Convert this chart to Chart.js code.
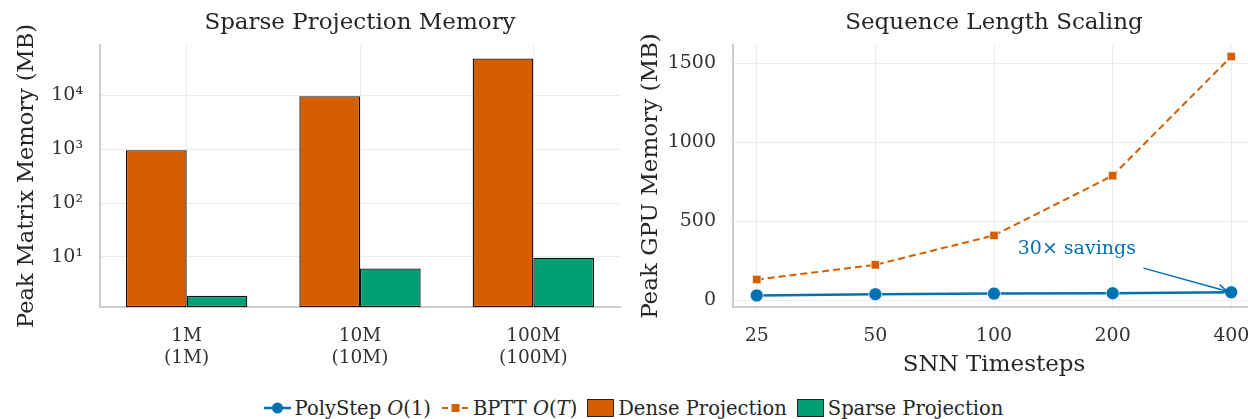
<!DOCTYPE html>
<html>
<head>
<meta charset="utf-8">
<script src="https://cdn.jsdelivr.net/npm/chart.js@4.4.1/dist/chart.umd.min.js"></script>
<style>
  html, body { margin: 0; padding: 0; background: #fff; overflow: hidden; }
  body { width: 1248px; height: 419px; position: relative; font-family: "DejaVu Serif", serif; }
  #left { position: absolute; left: 0; top: 0; }
  #right { position: absolute; left: 625px; top: 0; }
  #legend {
    position: absolute; left: 0; width: 1266px; top: 395px; height: 26px;
    display: flex; justify-content: center; align-items: center;
    font-size: 19.5px; color: #262626; white-space: nowrap;
  }
  #legend .item { display: flex; align-items: center; margin: 0 5px; }
  #legend svg { margin-right: 3px; }
  #legend .sw { width: 27px; height: 18px; border: 1px solid #222; box-sizing: border-box; margin-right: 4px; }
</style>
</head>
<body>
<canvas id="left" width="640" height="380"></canvas>
<canvas id="right" width="650" height="380"></canvas>
<div id="legend">
  <div class="item">
    <svg width="29" height="14"><line x1="1" y1="7" x2="28" y2="7" stroke="#0072B2" stroke-width="2.5"/><circle cx="14.5" cy="7" r="5.5" fill="#0072B2"/></svg>
    <span>PolyStep <i>O</i>(1)</span>
  </div>
  <div class="item">
    <svg width="29" height="14"><line x1="1" y1="7" x2="28" y2="7" stroke="#D55E00" stroke-width="2" stroke-dasharray="6,4"/><rect x="10.5" y="3" width="8" height="8" fill="#D55E00"/></svg>
    <span>BPTT <i>O</i>(<i>T</i>)</span>
  </div>
  <div class="item"><div class="sw" style="background:#D55E00"></div><span>Dense Projection</span></div>
  <div class="item"><div class="sw" style="background:#009E73"></div><span>Sparse Projection</span></div>
</div>
<script>
// ---- data ----
const modelSizes = ['1M', '10M', '100M'];
const modelSizeSub = ['(1M)', '(10M)', '(100M)'];
const denseMemory = [953.7, 9536.7, 47683.7];
const sparseMemory = [1.9, 6.1, 9.7];
const memTickValues = [10, 100, 1000, 10000];

const timesteps = ['25', '50', '100', '200', '400'];
const polystepMemory = [30, 38, 42, 44, 50];
const bpttMemory = [131, 224, 410, 788, 1542];
const gpuTickValues = [0, 500, 1000, 1500];

// ---- shared style ----
const FONT = "'DejaVu Serif', serif";
const TEXT = '#262626';
const GRID = '#ebebeb';
const SPINE = '#cccccc';
const BLUE = '#0072B2', ORANGE = '#D55E00', GREEN = '#009E73';

Chart.defaults.font.family = FONT;
Chart.defaults.color = TEXT;
Chart.defaults.animation = false;

const SUP = {'0':'⁰','1':'¹','2':'²','3':'³','4':'⁴','5':'⁵','6':'⁶','7':'⁷','8':'⁸','9':'⁹'};
function powLabel(v) {
  const e = Math.round(Math.log10(v));
  return '10' + String(e).split('').map(d => SUP[d]).join('');
}

// ---- left: bar chart on log scale ----
new Chart(document.getElementById('left'), {
  type: 'bar',
  data: {
    labels: modelSizes.map((m, i) => [m, modelSizeSub[i]]),
    datasets: [
      { label: 'Dense Projection', data: denseMemory, backgroundColor: ORANGE,
        borderColor: '#111', borderWidth: 1.3, borderSkipped: false,
        barPercentage: 1.0, categoryPercentage: 0.7 },
      { label: 'Sparse Projection', data: sparseMemory, backgroundColor: GREEN,
        borderColor: '#111', borderWidth: 1.3, borderSkipped: false,
        barPercentage: 1.0, categoryPercentage: 0.7 }
    ]
  },
  options: {
    responsive: false,
    devicePixelRatio: 1,
    layout: { padding: { left: 0, right: 20, top: 0, bottom: 0 } },
    plugins: {
      legend: { display: false },
      tooltip: { enabled: false },
      title: { display: true, text: 'Sparse Projection Memory', fullSize: false,
        font: { size: 23, weight: 'normal' }, color: TEXT,
        padding: { top: 9, bottom: 8.4 } }
    },
    scales: {
      x: {
        offset: true,
        grid: { display: true, offset: false, color: GRID, drawTicks: false },
        border: { display: true, color: SPINE, width: 2 },
        ticks: { font: { size: 18.5 }, padding: 18, color: '#333' },
        afterFit: s => { s.height = 73; }
      },
      y: {
        type: 'logarithmic',
        min: 1.18, max: 85000,
        grid: { color: GRID, drawTicks: false },
        border: { display: true, color: SPINE, width: 2 },
        ticks: { font: { size: 19 }, padding: 17, color: '#333', callback: v => powLabel(v) },
        afterBuildTicks: s => { s.ticks = memTickValues.map(v => ({ value: v })); },
        title: { display: true, text: 'Peak Matrix Memory (MB)', font: { size: 22.5 }, color: TEXT,
          padding: { top: 14, bottom: 0 } },
        afterFit: s => { s.width = 100; }
      }
    }
  }
});

// ---- right: memory vs sequence length ----
const savingsNote = {
  id: 'savingsNote',
  afterDatasetsDraw(chart) {
    const { ctx, scales: { x, y } } = chart;
    const last = timesteps.length - 1;
    const tx = x.getPixelForValue(2.2), ty = y.getPixelForValue(323);
    const ax0 = x.getPixelForValue(3.26), ay0 = y.getPixelForValue(203);
    const ax1 = x.getPixelForValue(last - 0.035), ay1 = y.getPixelForValue(polystepMemory[last] + 7);
    ctx.save();
    ctx.fillStyle = BLUE;
    ctx.font = "19px " + FONT;
    ctx.textAlign = 'left';
    ctx.textBaseline = 'middle';
    ctx.fillText('30× savings', tx, ty);
    ctx.strokeStyle = BLUE;
    ctx.lineWidth = 1.5;
    ctx.beginPath(); ctx.moveTo(ax0, ay0); ctx.lineTo(ax1, ay1); ctx.stroke();
    const ang = Math.atan2(ay1 - ay0, ax1 - ax0), L = 10, w = 0.45;
    ctx.beginPath();
    ctx.moveTo(ax1 - L * Math.cos(ang - w), ay1 - L * Math.sin(ang - w));
    ctx.lineTo(ax1, ay1);
    ctx.lineTo(ax1 - L * Math.cos(ang + w), ay1 - L * Math.sin(ang + w));
    ctx.stroke();
    ctx.restore();
  }
};

new Chart(document.getElementById('right'), {
  type: 'line',
  data: {
    datasets: [
      { label: 'BPTT O(T)', data: bpttMemory.map((v, i) => ({ x: i, y: v })),
        borderColor: ORANGE, backgroundColor: ORANGE, borderWidth: 2, borderDash: [7, 4],
        pointStyle: 'rect', pointRadius: 6, pointBorderColor: 'rgba(255,255,255,0.7)', pointBorderWidth: 1,
        tension: 0 },
      { label: 'PolyStep O(1)', data: polystepMemory.map((v, i) => ({ x: i, y: v })),
        borderColor: BLUE, backgroundColor: BLUE, borderWidth: 2.5,
        pointStyle: 'circle', pointRadius: 6.5, pointBorderColor: 'rgba(255,255,255,0.7)', pointBorderWidth: 1,
        tension: 0 }
    ]
  },
  options: {
    responsive: false,
    devicePixelRatio: 1,
    layout: { padding: { left: 0, right: 20, top: 0, bottom: 0 } },
    plugins: {
      legend: { display: false },
      tooltip: { enabled: false },
      title: { display: true, text: 'Sequence Length Scaling', fullSize: false,
        font: { size: 23, weight: 'normal' }, color: TEXT,
        padding: { top: 9, bottom: 8.4 } }
    },
    scales: {
      x: {
        type: 'linear', min: -0.2, max: 4.2,
        grid: { color: GRID, drawTicks: false },
        border: { display: true, color: SPINE, width: 2 },
        ticks: { font: { size: 19 }, padding: 18, color: '#333', callback: v => timesteps[v] },
        afterBuildTicks: s => { s.ticks = timesteps.map((t, i) => ({ value: i })); },
        title: { display: true, text: 'SNN Timesteps', font: { size: 23 }, color: TEXT,
          padding: { top: 0, bottom: 1 } },
        afterFit: s => { s.height = 73; }
      },
      y: {
        min: -43, max: 1615,
        grid: { color: GRID, drawTicks: false },
        border: { display: true, color: SPINE, width: 2 },
        ticks: { font: { size: 19 }, padding: 17, color: '#333', callback: v => String(v) },
        afterBuildTicks: s => { s.ticks = gpuTickValues.map(v => ({ value: v })); },
        title: { display: true, text: 'Peak GPU Memory (MB)', font: { size: 23 }, color: TEXT,
          padding: { top: 12, bottom: 0 } },
        afterFit: s => { s.width = 108; }
      }
    }
  },
  plugins: [savingsNote]
});
</script>
</body>
</html>
